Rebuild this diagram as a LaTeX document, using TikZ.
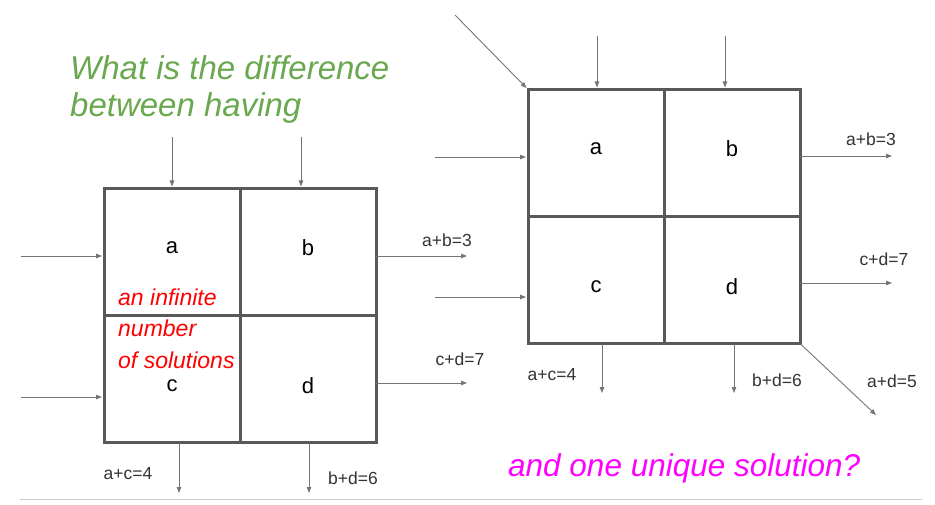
\documentclass[tikz,border=0pt]{standalone}
\usepackage{fontspec}
\setmainfont{Liberation Sans}
\usepackage{xcolor}
\usetikzlibrary{arrows.meta,positioning,calc}
\definecolor{boxgray}{HTML}{595959}
\definecolor{arrgray}{HTML}{757575}
\definecolor{qgreen}{HTML}{6AA84F}
\definecolor{qmagenta}{RGB}{255,0,255}
\definecolor{qred}{RGB}{255,0,0}
\begin{document}
\begin{tikzpicture}[x=1pt,y=-1pt,
  cell/.style={draw=boxgray, line width=3pt, minimum width=136pt, minimum height=127pt,
    inner sep=0pt, outer sep=0pt},
  uplbl/.style={font=\fontsize{22}{24}\selectfont, yshift=4pt},
  lowlbl/.style={font=\fontsize{22}{24}\selectfont, yshift=-7pt},
  arr/.style={draw=arrgray, line width=0.9pt, -{Triangle[length=6pt,width=4.5pt]}, shorten >=2pt},
  eq/.style={font=\fontsize{17.5}{20}\selectfont, text=black!80},
  note/.style={font=\fontsize{23}{26}\selectfont\itshape, text=qred, anchor=west, inner sep=0pt}
]
\useasboundingbox (0,0) rectangle (935,505);

% left grid: infinitely many solutions
\node[cell, label={[uplbl]center:a}] (la) at (172,252) {};
\node[cell, right=0pt of la, label={[uplbl]center:b}] (lb) {};
\node[cell, below=0pt of la, label={[lowlbl]center:c}] (lc) {};
\node[cell, right=0pt of lc, label={[lowlbl]center:d}] (ld) {};

\coordinate (lt1) at (172,137);
\coordinate (lt2) at (301,137);
\coordinate (ll1) at (21,256);
\coordinate (ll2) at (21,397);
\coordinate (lr1) at (467,256);
\coordinate (lr2) at (467,383);
\coordinate (lo1) at (179,493);
\coordinate (lo2) at (309,493);

\draw[arr] (lt1) -- (lt1 |- la.north);
\draw[arr] (lt2) -- (lt2 |- lb.north);
\draw[arr] (ll1) -- (ll1 -| la.west);
\draw[arr] (ll2) -- (ll2 -| lc.west);
\draw[arr, shorten >=0pt] (lr1 -| lb.east) -- (lr1);
\draw[arr, shorten >=0pt] (lr2 -| ld.east) -- (lr2);
\draw[arr, shorten >=0pt] (lo1 |- lc.south) -- (lo1);
\draw[arr, shorten >=0pt] (lo2 |- ld.south) -- (lo2);

\node[eq] at (447,240) {a+b=3};
\node[eq] at (460,359) {c+d=7};
\node[eq] at (128,474) {a+c=4};
\node[eq] at (353,478) {b+d=6};

\node[note] at (118,297) {an infinite};
\node[note] at (118,328) {number};
\node[note] at (118,360) {of solutions};

% right grid: one unique solution
\node[cell, label={[uplbl]center:a}] (ra) at (596,153) {};
\node[cell, right=0pt of ra, label={[uplbl]center:b}] (rb) {};
\node[cell, below=0pt of ra, label={[lowlbl]center:c}] (rc) {};
\node[cell, right=0pt of rc, label={[lowlbl]center:d}] (rd) {};

\coordinate (rdiag1) at (455,15);
\coordinate (rt1) at (597,36);
\coordinate (rt2) at (725,36);
\coordinate (rl1) at (435,157);
\coordinate (rl2) at (435,297);
\coordinate (rr1) at (892,156);
\coordinate (rr2) at (892,283);
\coordinate (ro1) at (602,393);
\coordinate (ro2) at (734,393);
\coordinate (rdiag2) at (876,415);

\draw[arr] (rdiag1) -- (ra.north west);
\draw[arr] (rt1) -- (rt1 |- ra.north);
\draw[arr] (rt2) -- (rt2 |- rb.north);
\draw[arr] (rl1) -- (rl1 -| ra.west);
\draw[arr] (rl2) -- (rl2 -| rc.west);
\draw[arr, shorten >=0pt] (rr1 -| rb.east) -- (rr1);
\draw[arr, shorten >=0pt] (rr2 -| rd.east) -- (rr2);
\draw[arr, shorten >=0pt] (ro1 |- rc.south) -- (ro1);
\draw[arr, shorten >=0pt] (ro2 |- rd.south) -- (ro2);
\draw[arr, shorten >=0pt] (rd.south east) -- (rdiag2);

\node[eq] at (871,139) {a+b=3};
\node[eq] at (884,259) {c+d=7};
\node[eq] at (552,375) {a+c=4};
\node[eq] at (777,380) {b+d=6};
\node[eq] at (892,381) {a+d=5};

% questions
\node[font=\fontsize{33}{37}\selectfont\itshape, text=qgreen, align=left, anchor=west, inner sep=0pt]
  (question) at (70,89) {What is the difference\\between having};
\node[font=\fontsize{31.5}{36}\selectfont\itshape, text=qmagenta, anchor=west, inner sep=0pt]
  (answer) at (508,468) {and one unique solution?};

\draw[black!20, line width=1pt] (20,499) -- (922,499);
\end{tikzpicture}
\end{document}
